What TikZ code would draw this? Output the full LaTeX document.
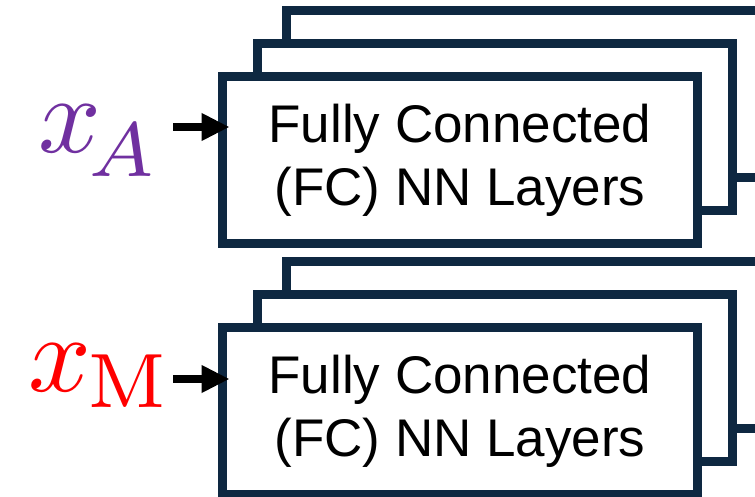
\documentclass[tikz,border=0pt]{standalone}
\usepackage{fontspec}
\newfontfamily\layerfont{Liberation Sans}
\usepackage{tikz}
\usetikzlibrary{positioning, arrows.meta, calc}
\definecolor{FrameNavy}{RGB}{14, 40, 65}
\definecolor{InputPurple}{RGB}{112, 48, 160}
\definecolor{InputRed}{RGB}{255, 0, 0}

\begin{document}
\begin{tikzpicture}[x=1pt, y=-1pt,
    layerbox/.style={draw=FrameNavy, line width=8.5pt, fill=white, minimum width=475pt, minimum height=167pt,
      inner sep=0pt, outer sep=0pt, align=center, font=\layerfont\fontsize{53}{63}\selectfont},
    inarrow/.style={line width=8pt, shorten >=-7pt, -{Triangle[length=28pt, width=26pt]}}]
    \clip (0,0) rectangle (755,497);

    % Stacked FC layers, input A
    \node[layerbox] (backA) at (524,94) {};
    \node[layerbox] (midA) at (495,127) {};
    \node[layerbox] (fcA) at (460,160) {Fully Connected\\(FC) NN Layers};

    % Stacked FC layers, input M
    \node[layerbox] (backM) at (524,345) {};
    \node[layerbox] (midM) at (495,378) {};
    \node[layerbox] (fcM) at (460,411) {Fully Connected\\(FC) NN Layers};

    % Inputs
    \node[InputPurple, scale=11, anchor=base west, inner sep=0pt] (xA) at (36,153)
      {$x_{\lower0.6pt\hbox{\kern-1.1pt$\scriptstyle A$}}$};
    \node[InputRed, scale=11, anchor=base west, inner sep=0pt] (xM) at (26,391)
      {$x_{\hbox{\kern-0.3pt$\scriptstyle\mathrm{M}$}}$};

    \coordinate (inA) at (173,127);
    \coordinate (inM) at (173,379);
    \draw[inarrow] (inA) -- (inA -| fcA.west);
    \draw[inarrow] (inM) -- (inM -| fcM.west);
  \end{tikzpicture}
\end{document}
